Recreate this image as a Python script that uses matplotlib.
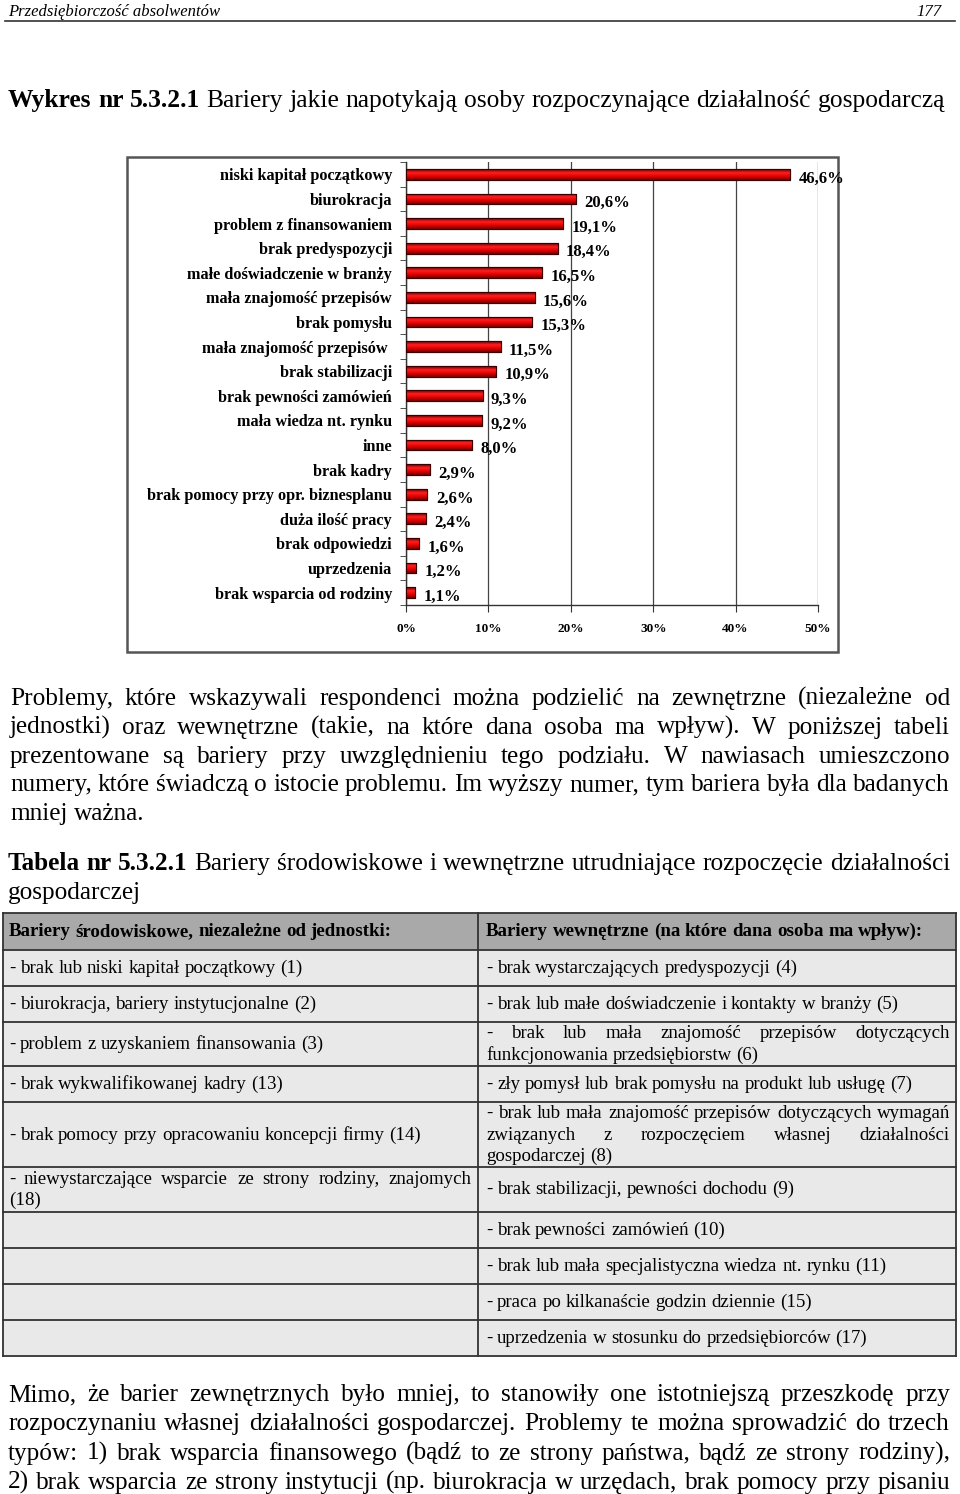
import numpy as np
import matplotlib.pyplot as plt
from matplotlib.colors import LinearSegmentedColormap
from matplotlib.patches import Rectangle

plt.rcParams['font.family'] = ['Liberation Serif', 'DejaVu Serif']

#- Chart data:
barriers = ['niski kapitał początkowy', 'biurokracja', 'problem z finansowaniem',
            'brak predyspozycji', 'małe doświadczenie w branży', 'mała znajomość przepisów',
            'brak pomysłu', 'mała znajomość przepisów ', 'brak stabilizacji',
            'brak pewności zamówień', 'mała wiedza nt. rynku', 'inne', 'brak kadry',
            'brak pomocy przy opr. biznesplanu', 'duża ilość pracy', 'brak odpowiedzi',
            'uprzedzenia', 'brak wsparcia od rodziny']
shares = [46.6, 20.6, 19.1, 18.4, 16.5, 15.6, 15.3, 11.5, 10.9, 9.3, 9.2, 8.0,
          2.9, 2.6, 2.4, 1.6, 1.2, 1.1]
x_ticks = [0, 10, 20, 30, 40, 50]

#- Table data:
head_ext = 'Bariery środowiskowe, niezależne od jednostki:'
head_int = 'Bariery wewnętrzne (na które dana osoba ma wpływ):'
external = ['- brak lub niski kapitał początkowy (1)',
            '- biurokracja, bariery instytucjonalne (2)',
            '- problem z uzyskaniem finansowania (3)',
            '- brak wykwalifikowanej kadry (13)',
            '- brak pomocy przy opracowaniu koncepcji firmy (14)',
            '- niewystarczające wsparcie ze strony rodziny, znajomych\n(18)',
            '', '', '', '']
internal = ['- brak wystarczających predyspozycji (4)',
            '- brak lub małe doświadczenie  i kontakty w branży (5)',
            '- brak lub mała znajomość przepisów dotyczących\nfunkcjonowania przedsiębiorstw (6)',
            '- zły pomysł lub brak pomysłu na produkt lub usługę (7)',
            '- brak lub mała znajomość przepisów dotyczących wymagań\nzwiązanych z rozpoczęciem własnej działalności\ngospodarczej (8)',
            '- brak stabilizacji, pewności dochodu (9)',
            '- brak pewności zamówień (10)',
            '- brak lub mała specjalistyczna wiedza nt. rynku (11)',
            '- praca po kilkanaście godzin dziennie (15)',
            '- uprzedzenia w stosunku do przedsiębiorców (17)']

#- Page text:
para1 = ['Problemy, które wskazywali respondenci można podzielić na zewnętrzne (niezależne od',
         'jednostki) oraz wewnętrzne (takie, na które dana osoba ma wpływ). W poniższej tabeli',
         'prezentowane są bariery przy uwzględnieniu tego podziału. W nawiasach umieszczono',
         'numery, które świadczą o istocie problemu. Im wyższy numer, tym bariera była dla badanych',
         'mniej ważna.']
para2 = ['Mimo, że barier zewnętrznych było mniej, to stanowiły one istotniejszą przeszkodę przy',
         'rozpoczynaniu własnej działalności gospodarczej. Problemy te można sprowadzić do trzech',
         'typów: 1) brak wsparcia finansowego (bądź to ze strony państwa, bądź ze strony rodziny),',
         '2) brak wsparcia ze strony instytucji (np. biurokracja w urzędach, brak pomocy przy pisaniu']

fig = plt.figure(figsize=(9.6, 14.94), dpi=100)
page = fig.add_axes([0, 0, 1, 1], zorder=0)
page.set_xlim(0, 960)
page.set_ylim(1494, 0)
page.axis('off')
renderer = fig.canvas.get_renderer()

BODY = 18.2
CELL = 13.6


def text_width(s, size, weight='normal', style='normal'):
    t = page.text(0, 0, s, fontsize=size, fontweight=weight, fontstyle=style)
    w = t.get_window_extent(renderer).width
    t.remove()
    return w


def put_line(segments, y, x0, x1=None, size=BODY, style='normal'):
    #- segments: list of (text, weight); y is the baseline in pixels
    words = []
    for s, wt in segments:
        for w in s.split():
            words.append((w, wt))
    widths = [text_width(w, size, wt, style) for w, wt in words]
    if x1 is None or len(words) < 2:
        gap = size * 100 / 72 * 0.25
    else:
        gap = (x1 - x0 - sum(widths)) / (len(words) - 1)
    x = x0
    for (w, wt), wd in zip(words, widths):
        page.text(x, round(y), w, fontsize=size, fontweight=wt, fontstyle=style,
                  va='baseline', ha='left')
        x += wd + gap


#- Header:
page.text(8, 16, 'Przedsiębiorczość absolwentów', fontsize=12, fontstyle='italic',
          va='baseline')
page.text(942, 16, '177', fontsize=12, fontstyle='italic', va='baseline', ha='right')
page.plot([5, 955], [21, 21], color='#333333', lw=1.2)

#- Chart title:
put_line([('Wykres nr 5.3.2.1', 'bold'),
          ('Bariery jakie napotykają osoby rozpoczynające działalność gospodarczą', 'normal')],
         107, 8, size=18.4)

#- Chart frame:
page.add_patch(Rectangle((127, 157), 711, 495, fill=False, edgecolor='#555555', lw=1.8))

ax = fig.add_axes([406 / 960, 1 - 605 / 1494, 412 / 960, 443 / 1494], zorder=1)
ypos = np.arange(len(shares))
bars = ax.barh(ypos, shares, height=0.44, color='#dd0000', edgecolor='#3a0000',
               lw=0.8, zorder=3)
grad = LinearSegmentedColormap.from_list('redbar', ['#5a0000', '#ff2020', '#e00000', '#700000'])
g = np.linspace(0, 1, 64).reshape(-1, 1)
for b in bars:
    x0, y0, w, h = b.get_x(), b.get_y(), b.get_width(), b.get_height()
    im = ax.imshow(g, cmap=grad, extent=[x0, x0 + w, y0 + h, y0], aspect='auto',
                   zorder=3.5, interpolation='bilinear')
    im.set_clip_path(b)
for b in bars:
    ax.add_patch(Rectangle((b.get_x(), b.get_y()), b.get_width(), b.get_height(),
                           fill=False, edgecolor='#3a0000', lw=0.8, zorder=4))

for y, v in zip(ypos, shares):
    ax.annotate(f'{v:.1f}%'.replace('.', ','), (v, y), xytext=(6, -3),
                textcoords='offset points', ha='left', va='center',
                fontsize=12, fontweight='bold', zorder=5)

ax.set_xlim(0, 50)
ax.set_ylim(len(shares) - 0.5, -0.5)
ax.set_xticks(x_ticks)
ax.set_xticklabels([f'{t}%' for t in x_ticks], fontsize=9.5, fontweight='bold')
ax.set_yticks(ypos)
ax.set_yticklabels(barriers, fontsize=11.7, fontweight='bold')
ax.set_yticks(np.arange(len(shares) + 1) - 0.5, minor=True)
ax.tick_params(axis='y', which='major', length=0, pad=10)
ax.tick_params(axis='y', which='minor', length=4, direction='out', color='#333333')
ax.tick_params(axis='x', length=5, direction='out', pad=8, color='#333333')
ax.grid(axis='x', color='#444444', lw=0.9, zorder=0)
for s in ['top', 'right']:
    ax.spines[s].set_visible(False)
for s in ['left', 'bottom']:
    ax.spines[s].set_color('#333333')
    ax.spines[s].set_linewidth(1.0)

#- Paragraph 1:
for i, line in enumerate(para1):
    last = i == len(para1) - 1
    put_line([(line, 'normal')], 705 + i * 28.8, 10, None if last else 950)

#- Table title:
put_line([('Tabela nr 5.3.2.1', 'bold'),
          ('Bariery środowiskowe i wewnętrzne utrudniające rozpoczęcie działalności', 'normal')],
         870, 8, 950)
put_line([('gospodarczej', 'normal')], 899, 8)

#- Table:
rows = [913, 950, 986, 1022, 1066, 1102, 1167, 1212, 1248, 1284, 1320, 1356]
tl, tm, tr = 3, 478, 956
page.add_patch(Rectangle((tl, rows[0]), tr - tl, rows[1] - rows[0], facecolor='#a9a9a9',
                         edgecolor='none'))
page.add_patch(Rectangle((tl, rows[1]), tr - tl, rows[-1] - rows[1], facecolor='#e9e9e9',
                         edgecolor='none'))
for yb in rows:
    page.plot([tl, tr], [yb, yb], color='#333333', lw=1.3)
for xb in [tl, tm, tr]:
    page.plot([xb, xb], [rows[0], rows[-1]], color='#333333', lw=1.3)

put_line([(head_ext, 'bold')], (rows[0] + rows[1]) / 2 + 5, 9, size=CELL)
put_line([(head_int, 'bold')], (rows[0] + rows[1]) / 2 + 5, 486, size=CELL)

LS = 21.5
for col, (x0, x1) in zip([external, internal], [(9, 471), (486, 950)]):
    for r, cell in enumerate(col):
        if not cell:
            continue
        lines = cell.split('\n')
        mid = (rows[r + 1] + rows[r + 2]) / 2
        first = mid - (len(lines) - 1) * LS / 2
        for k, line in enumerate(lines):
            last = k == len(lines) - 1
            put_line([(line, 'normal')], first + k * LS + 5, x0,
                     None if last else x1, size=CELL)

#- Paragraph 2:
for i, line in enumerate(para2):
    put_line([(line, 'normal')], 1401 + i * 29.3, 8, 950)

fig.savefig('out.png', dpi=100)
